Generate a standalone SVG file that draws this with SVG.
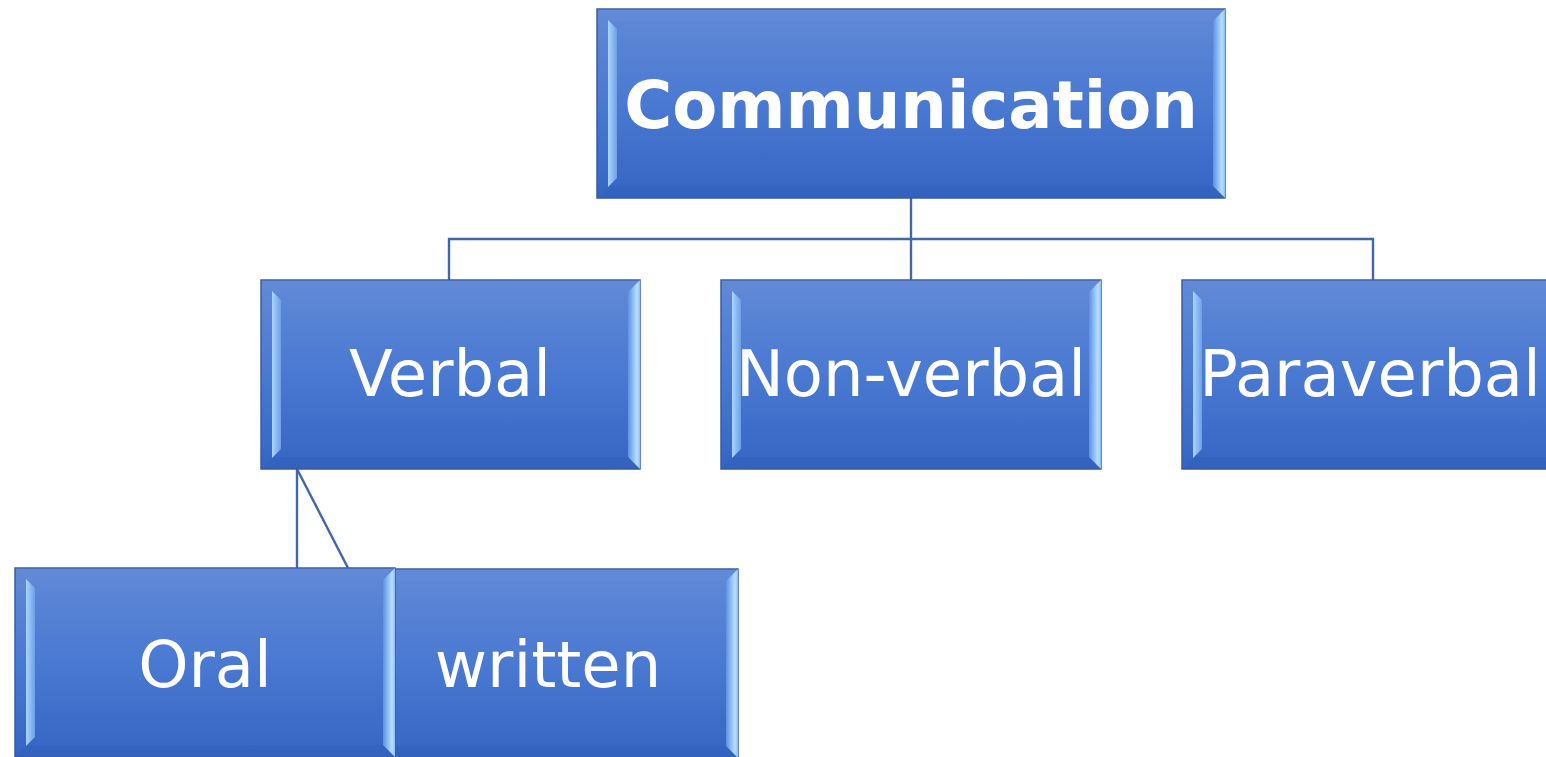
<svg xmlns="http://www.w3.org/2000/svg" width="1546" height="757" viewBox="0 0 1546 757">
<style>
.box{fill:url(#gFill);stroke:#3B5C9E;stroke-width:1.5}
.lb{fill:url(#gLeft)}
.rb{fill:url(#gRight)}
.tb{fill:#6A93DB;opacity:0.2}
.bb{fill:#2A56AE;opacity:0.25}
.t{font-family:"DejaVu Sans","Verdana",sans-serif;font-size:64px;fill:#FFFFFF;text-anchor:middle}
.tb1{font-family:"DejaVu Sans","Verdana",sans-serif;font-size:65.5px;font-weight:bold;fill:#FFFFFF;text-anchor:middle}
.c{fill:none;stroke:#4266A6;stroke-width:2.4}
</style>
<defs>
<linearGradient id="gFill" x1="0" y1="0" x2="0" y2="1">
<stop offset="0" stop-color="#6189D6"/>
<stop offset="0.5" stop-color="#4A79D2"/>
<stop offset="1" stop-color="#3565C3"/>
</linearGradient>
<linearGradient id="gLeft" x1="0" y1="0" x2="1" y2="0">
<stop offset="0" stop-color="#A9D6FF"/>
<stop offset="1" stop-color="#6E9FE6"/>
</linearGradient>
<linearGradient id="gRight" x1="0" y1="0" x2="1" y2="0">
<stop offset="0" stop-color="#5F90E0"/>
<stop offset="0.75" stop-color="#B6E0FF"/>
<stop offset="1" stop-color="#8CBDF2"/>
</linearGradient>
</defs>
<g id="connectors">
<path class="c" d="M911,198 V280"/>
<path class="c" d="M449,280 V239 H1373 V280"/>
<path class="c" d="M297,469 V568"/>
<path class="c" d="M297,469 L348,568"/>
</g>
<g id="node-communication" transform="translate(597,9)">
<rect class="box" x="0" y="0" width="628" height="189"/>
<polygon class="tb" points="0,0 628,0 616,12 12,12"/>
<polygon class="bb" points="0,189 628,189 616,177 12,177"/>
<polygon class="lb" points="11,11 20,20 20,169 11,178"/>
<polygon class="rb" points="616,12 628,0 628,189 616,177"/>
<text class="tb1" x="314" y="119">Communication</text>
</g>
<g id="node-verbal" transform="translate(261,280)">
<rect class="box" x="0" y="0" width="379" height="189"/>
<polygon class="tb" points="0,0 379,0 367,12 12,12"/>
<polygon class="bb" points="0,189 379,189 367,177 12,177"/>
<polygon class="lb" points="11,11 20,20 20,169 11,178"/>
<polygon class="rb" points="367,12 379,0 379,189 367,177"/>
<text class="t" x="189" y="116">Verbal</text>
</g>
<g id="node-nonverbal" transform="translate(721,280)">
<rect class="box" x="0" y="0" width="380" height="189"/>
<polygon class="tb" points="0,0 380,0 368,12 12,12"/>
<polygon class="bb" points="0,189 380,189 368,177 12,177"/>
<polygon class="lb" points="11,11 20,20 20,169 11,178"/>
<polygon class="rb" points="368,12 380,0 380,189 368,177"/>
<text class="t" x="190" y="116">Non-verbal</text>
</g>
<g id="node-paraverbal" transform="translate(1182,280)">
<rect class="box" x="0" y="0" width="380" height="189"/>
<polygon class="tb" points="0,0 380,0 368,12 12,12"/>
<polygon class="bb" points="0,189 380,189 368,177 12,177"/>
<polygon class="lb" points="11,11 20,20 20,169 11,178"/>
<polygon class="rb" points="368,12 380,0 380,189 368,177"/>
<text class="t" x="188" y="116">Paraverbal</text>
</g>
<g id="node-written" transform="translate(357,569)">
<rect class="box" x="0" y="0" width="381" height="189"/>
<polygon class="tb" points="0,0 381,0 369,12 12,12"/>
<polygon class="bb" points="0,189 381,189 369,177 12,177"/>
<polygon class="lb" points="11,11 20,20 20,169 11,178"/>
<polygon class="rb" points="369,12 381,0 381,189 369,177"/>
<text class="t" x="191" y="118">written</text>
</g>
<g id="node-oral" transform="translate(15,568)">
<rect class="box" x="0" y="0" width="380" height="189"/>
<polygon class="tb" points="0,0 380,0 368,12 12,12"/>
<polygon class="bb" points="0,189 380,189 368,177 12,177"/>
<polygon class="lb" points="11,11 20,20 20,169 11,178"/>
<polygon class="rb" points="368,12 380,0 380,189 368,177"/>
<text class="t" x="190" y="119">Oral</text>
</g>
</svg>
